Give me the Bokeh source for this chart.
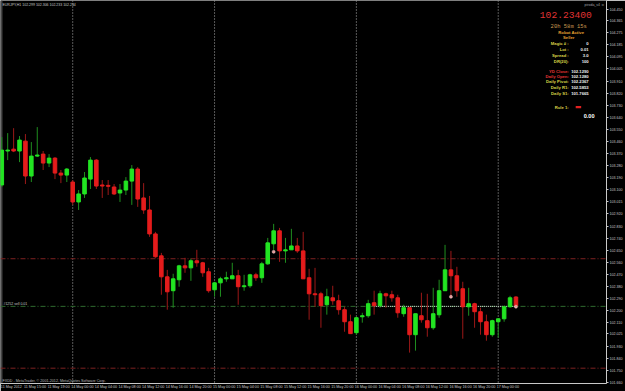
from bokeh.plotting import figure
from bokeh.models import (ColumnDataSource, Range1d, LinearAxis, FixedTicker,
                          PrintfTickFormatter, Span, Label, BoxAnnotation)
from bokeh.embed import file_html
from bokeh.resources import INLINE

# ---------------- data (EURJPY, H1) ----------------
symbol = "EURJPY,H1"
opens = [
    103.137, 103.391, 103.405, 103.391, 103.465, 103.204, 103.353, 103.368, 103.301, 103.338,
    103.226, 103.211, 103.159, 103.010, 103.070, 103.181, 103.323, 103.137, 103.134, 103.122,
    103.077, 103.099, 103.166, 103.256, 103.040, 102.950, 102.771, 102.607, 102.450, 102.346,
    102.428, 102.532, 102.517, 102.570, 102.555, 102.488, 102.353, 102.405, 102.435, 102.435,
    102.458, 102.376, 102.383, 102.465, 102.443, 102.547, 102.697, 102.794, 102.644, 102.652,
    102.681, 102.644, 102.443, 102.323, 102.323, 102.241, 102.293, 102.271, 102.204, 102.114,
    102.032, 102.151, 102.159, 102.256, 102.234, 102.323, 102.316, 102.293, 102.174, 102.219,
    102.017, 102.159, 102.122, 102.069, 102.166, 102.346, 102.502, 102.458, 102.361, 102.226,
    102.249, 102.189, 102.114, 102.017, 102.114, 102.136, 102.226, 102.299]
highs = [
    103.495, 103.525, 103.562, 103.503, 103.518, 103.458, 103.570, 103.391, 103.368, 103.346,
    103.249, 103.264, 103.174, 103.099, 103.234, 103.346, 103.331, 103.174, 103.174, 103.144,
    103.144, 103.196, 103.286, 103.271, 103.151, 103.055, 102.786, 102.629, 102.502, 102.473,
    102.540, 102.592, 102.585, 102.652, 102.562, 102.517, 102.413, 102.450, 102.488, 102.555,
    102.502, 102.465, 102.473, 102.480, 102.562, 102.741, 102.846, 102.816, 102.741, 102.809,
    102.741, 102.786, 102.510, 102.517, 102.338, 102.361, 102.383, 102.316, 102.226, 102.167,
    102.151, 102.181, 102.278, 102.346, 102.346, 102.331, 102.346, 102.316, 102.241, 102.219,
    102.174, 102.331, 102.323, 102.368, 102.428, 102.689, 102.644, 102.525, 102.413, 102.368,
    102.256, 102.219, 102.167, 102.129, 102.136, 102.234, 102.308, 102.306]
lows = [
    103.122, 103.323, 103.383, 103.308, 103.144, 103.159, 103.346, 103.249, 103.271, 103.181,
    103.151, 103.159, 102.988, 102.950, 103.040, 103.107, 103.107, 103.040, 103.062, 103.062,
    103.010, 103.062, 102.988, 102.973, 102.921, 102.749, 102.592, 102.316, 102.204, 102.219,
    102.376, 102.480, 102.420, 102.525, 102.450, 102.331, 102.301, 102.301, 102.413, 102.435,
    102.241, 102.346, 102.368, 102.420, 102.405, 102.540, 102.652, 102.562, 102.555, 102.652,
    102.629, 102.435, 102.129, 102.226, 102.069, 102.167, 102.241, 102.167, 102.039, 102.025,
    102.017, 102.107, 102.144, 102.167, 102.219, 102.219, 102.264, 102.144, 102.151, 101.883,
    101.898, 102.107, 102.002, 102.054, 102.144, 102.346, 102.293, 102.301, 101.987, 102.159,
    102.069, 102.017, 101.972, 102.002, 101.995, 102.114, 102.219, 102.233]
closes = [
    103.398, 103.398, 103.391, 103.473, 103.204, 103.353, 103.361, 103.301, 103.338, 103.226,
    103.211, 103.256, 103.010, 103.070, 103.189, 103.323, 103.129, 103.129, 103.127, 103.070,
    103.099, 103.166, 103.256, 103.032, 102.950, 102.771, 102.600, 102.450, 102.338, 102.435,
    102.532, 102.517, 102.570, 102.555, 102.480, 102.346, 102.405, 102.435, 102.443, 102.458,
    102.376, 102.383, 102.465, 102.443, 102.547, 102.704, 102.794, 102.644, 102.652, 102.681,
    102.644, 102.435, 102.323, 102.316, 102.234, 102.301, 102.271, 102.204, 102.114, 102.025,
    102.144, 102.159, 102.249, 102.234, 102.323, 102.308, 102.293, 102.181, 102.219, 102.017,
    102.174, 102.129, 102.069, 102.174, 102.346, 102.502, 102.458, 102.346, 102.226, 102.249,
    102.189, 102.114, 102.017, 102.122, 102.136, 102.226, 102.293, 102.234]

time_tick_idx = [0, 4, 8, 12, 16, 20, 24, 28, 32, 36, 40, 44, 48, 52, 56, 60, 64, 68, 72, 76, 80, 84]
time_labels = ["11 May 2012", "11 May 15:00", "11 May 19:00",
               "14 May 00:00", "14 May 04:00", "14 May 08:00", "14 May 12:00", "14 May 16:00", "14 May 20:00",
               "15 May 00:00", "15 May 04:00", "15 May 08:00", "15 May 12:00", "15 May 16:00", "15 May 20:00",
               "16 May 00:00", "16 May 04:00", "16 May 08:00", "16 May 12:00", "16 May 16:00", "16 May 20:00",
               "17 May 00:00"]
day_breaks = [12, 36, 60, 84]
price_ticks = [104.450, 104.365, 104.275, 104.185, 104.095, 104.005, 103.910, 103.820,
               103.730, 103.640, 103.550, 103.460, 103.370, 103.280, 103.190, 103.100,
               103.015, 102.920, 102.830, 102.740, 102.650, 102.560, 102.470, 102.380,
               102.290, 102.200, 102.110, 102.025, 101.930, 101.840, 101.750, 101.660]

bid = 102.234
order_price = 102.229
order_open_idx, order_last_idx = 63, 87
trade_mark_idx = [46, 76, 87]
trade_mark_price = [102.637, 102.301, 102.227]

yd_close = 102.1290
daily_open = 102.1280
daily_pivot = 102.2367
daily_r1 = 102.5853
daily_s1 = 101.7665
info_rows = [("Magic # :", "0"), ("Lot :", "0.01"), ("Spread :", "3.0"), ("DR(20):", "100")]
level_rows = [("YD Close:", yd_close, "red"), ("Daily Open:", daily_open, "red"),
              ("Daily Pivot:", daily_pivot, "yellow"), ("Daily R1:", daily_r1, "yellow"),
              ("Daily S1:", daily_s1, "yellow")]

# ---------------- styling / layout ----------------
W, H = 625, 391
FRAME_W, FRAME_H = 610, 384
XS, XE = -0.2185, 102.32
YS, YE = 101.652, 104.517
GREEN, RED = "#22e422", "#e41c1c"
GREEN_W, RED_W = "#1f8f1f", "#9c1818"
YELLOW, LRED, ORANGE = "#dcd648", "#e03434", "#e8a232"
FONT = "Liberation Sans"

def xd(px):
    return XS + (XE - XS) * px / FRAME_W

def yd(py):
    return YE - (YE - YS) * py / FRAME_H

idx = list(range(len(opens)))
up = [c >= o for o, c in zip(opens, closes)]
src = ColumnDataSource(dict(
    idx=idx, high=highs, low=lows,
    top=[max(o, c) for o, c in zip(opens, closes)],
    bottom=[min(o, c) for o, c in zip(opens, closes)],
    body=[GREEN if u else RED for u in up],
    wick=[GREEN_W if u else RED_W for u in up],
))

p = figure(width=W, height=H, output_backend="svg", toolbar_location=None,
           x_range=Range1d(XS, XE), y_range=Range1d(YS, YE),
           x_axis_location=None, y_axis_location=None,
           min_border_left=0, min_border_top=0, min_border_right=W - FRAME_W,
           min_border_bottom=H - FRAME_H,
           background_fill_color="black", border_fill_color="black",
           outline_line_color=None)
p.xgrid.visible = False
p.ygrid.visible = False

# left window border
p.add_layout(BoxAnnotation(right=xd(2), fill_color="#454545", fill_alpha=1,
                           line_color=None, level="underlay"))

# period separators and level lines
for d in day_breaks:
    p.add_layout(Span(location=d, dimension="height", line_color="#b0b0b0",
                      line_dash="1 2", line_width=1, level="underlay"))
for lv, col in [(daily_r1, "#7c2020"), (daily_s1, "#7c2020"), (order_price, "#2e6a2e")]:
    p.add_layout(Span(location=lv, dimension="width", line_color=col,
                      line_dash="5 2 1 2", line_width=1, level="underlay"))
p.segment(x0=[order_open_idx], x1=[order_last_idx], y0=[order_price], y1=[order_price],
          line_color="#d8d8d8", line_dash="1 1", line_width=1)

# candles
p.segment(x0="idx", x1="idx", y0="low", y1="high", line_color="wick", line_width=1, source=src)
p.vbar(x="idx", width=0.6, top="top", bottom="bottom", fill_color="body",
       line_color="body", line_width=1, source=src)
p.scatter(x=trade_mark_idx, y=trade_mark_price, size=3, fill_color="#e89a9a",
          line_color="#f4d0d0", line_width=0.5)

# axes
yax = LinearAxis(ticker=FixedTicker(ticks=price_ticks),
                 formatter=PrintfTickFormatter(format="%.3f"),
                 axis_line_color="#c8c8c8", major_tick_line_color="#c8c8c8",
                 major_tick_out=2, major_tick_in=0, minor_tick_out=0, minor_tick_in=0,
                 minor_tick_line_color=None,
                 major_label_text_color="#c8c8c8", major_label_text_font_size="3.6px",
                 major_label_text_font=FONT, major_label_standoff=1)
p.add_layout(yax, "right")

OFF = 1.625
xticks = [t + OFF for t in time_tick_idx]
xax = LinearAxis(ticker=FixedTicker(ticks=xticks),
                 major_label_overrides={t: lab for t, lab in zip(xticks, time_labels)},
                 axis_line_color="#c8c8c8", major_tick_line_color=None,
                 major_tick_out=0, major_tick_in=0, minor_tick_out=0, minor_tick_in=0,
                 minor_tick_line_color=None, major_label_text_color="#c8c8c8",
                 major_label_text_font_size="3.7px", major_label_text_font=FONT,
                 major_label_standoff=1)
p.add_layout(xax, "below")

def txt(px, py, s, color, size, align="left", font=FONT, style="normal", **kw):
    p.add_layout(Label(x=xd(px), y=yd(py), text=s, text_color=color,
                       text_font_size=size, text_align=align, text_baseline="middle",
                       text_font=font, text_font_style=style, **kw))

# chart texts
o, h, l, c = opens[-1], highs[-1], lows[-1], closes[-1]
txt(2, 4.5, f"{symbol} {o:.3f} {h:.3f} {l:.3f} {c:.3f}", "#c8c8c8", "3.5px")
txt(2, 381, "FXDD - MetaTrader, \u00a9 2001-2012, MetaQuotes Software Corp.", "#b8b8b8", "3.7px")
txt(3, 304.5, "#1252 sell 0.01", "#c8c8c8", "3.5px")
txt(608, 5, "piroda_v4 \u263a", "#a8a8a8", "3.5px", align="right")

# info panel
txt(569, 15, f"{bid:.5f}", LRED, "9.6px", align="center", font="Liberation Mono")
txt(572, 26, "20h 58m 15s", "#c89a52", "5.5px", align="center", font="Liberation Mono")
txt(574.5, 32, "Robot Active", ORANGE, "4.2px", align="center", style="bold")
txt(572, 37.3, "Seller", ORANGE, "4.2px", align="center", style="bold")
for k, (lab, val) in enumerate(info_rows):
    y = 43.3 + 6 * k
    txt(572, y, lab, YELLOW, "4.2px", align="right", style="bold")
    txt(592, y, val, "#f0f0f0", "4.2px", align="right", style="bold")
for lab, val, col, y in [(r[0], r[1], r[2], yy) for r, yy in zip(level_rows, [70.7, 76, 81.3, 87.3, 93.3])]:
    txt(572, y, lab, LRED if col == "red" else YELLOW, "4.2px", align="right", style="bold")
    txt(592, y, f"{val:.4f}", "#f0f0f0", "4.2px", align="right", style="bold")
txt(572, 106.8, "Rule 1:", YELLOW, "4.2px", align="right", style="bold")
p.add_layout(BoxAnnotation(left=xd(579), right=xd(584.5), top=yd(105.8), bottom=yd(108),
                           fill_color="#e02020", fill_alpha=1, line_color=None))
txt(598, 116, "0.00", "#ffffff", "5.6px", align="right", style="bold")

# bid price box on the axis
p.add_layout(Label(x=xd(611.5), y=bid, text=f"{bid:.3f}", text_color="black",
                   text_font_size="3.6px", text_font=FONT, text_align="left",
                   text_baseline="middle", background_fill_color="white",
                   background_fill_alpha=1, padding=1))

open("out.html", "w").write(file_html(p, INLINE))
